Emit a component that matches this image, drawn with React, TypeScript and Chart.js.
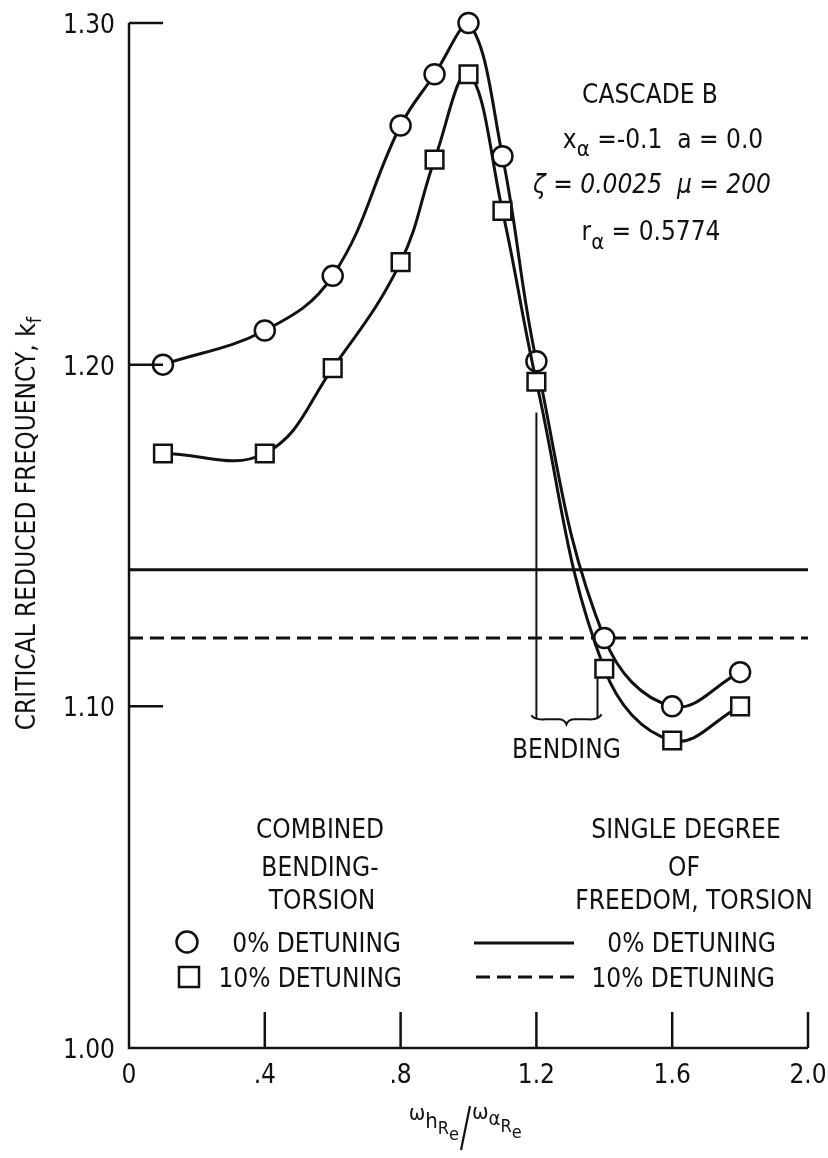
import React, { useEffect, useRef } from "react";
import { Chart, registerables } from "chart.js";

Chart.register(...registerables);

// ---- data ----
const xRatio = [0.1, 0.4, 0.6, 0.8, 0.9, 1.0, 1.1, 1.2, 1.4, 1.6, 1.8];
const kfDetune0 = [1.2, 1.21, 1.226, 1.27, 1.285, 1.3, 1.261, 1.201, 1.12, 1.1, 1.11];
const kfDetune10 = [1.174, 1.174, 1.199, 1.23, 1.26, 1.285, 1.245, 1.195, 1.111, 1.09, 1.1];
const sdofX = [0, 2.0];
const sdofDetune0 = 1.14;
const sdofDetune10 = 1.12;
const bendingRange = [1.2, 1.38];
const bendingTop = [1.186, 1.1085];
const bendingBase = 1.0965;
const xTicks = [0, 0.4, 0.8, 1.2, 1.6, 2.0];
const xTickLabels = ["0", ".4", ".8", "1.2", "1.6", "2.0"];
const yTicks = [1.0, 1.1, 1.2, 1.3];
const yTickLabels = ["1.00", "1.10", "1.20", "1.30"];

const FF = "'DejaVu Sans Condensed', 'DejaVu Sans', sans-serif";
const INK = "#111";

type Part = { t: string; size: number; dy: number; italic?: boolean };

function setFont(ctx: CanvasRenderingContext2D, size: number, italic = false) {
  ctx.font = `${italic ? "italic " : ""}${size}px ${FF}`;
  try {
    (ctx as any).fontStretch = "condensed";
  } catch (e) {}
}

function rich(ctx: CanvasRenderingContext2D, parts: Part[], x: number, y: number, align: "left" | "center" | "right") {
  let w = 0;
  parts.forEach((p) => {
    setFont(ctx, p.size, p.italic);
    w += ctx.measureText(p.t).width;
  });
  let cx = align === "center" ? x - w / 2 : align === "right" ? x - w : x;
  ctx.textAlign = "left";
  ctx.textBaseline = "alphabetic";
  parts.forEach((p) => {
    setFont(ctx, p.size, p.italic);
    ctx.fillText(p.t, cx, y + p.dy);
    cx += ctx.measureText(p.t).width;
  });
}

function txt(ctx: CanvasRenderingContext2D, s: string, x: number, y: number, align: "left" | "center" | "right", size = 26, italic = false) {
  rich(ctx, [{ t: s, size, dy: 0, italic }], x, y, align);
}

const decorPlugin = {
  id: "decor",
  afterDatasetsDraw(chart: any) {
    const ctx: CanvasRenderingContext2D = chart.ctx;
    const xs = chart.scales.x;
    const ys = chart.scales.y;
    const X = (v: number) => xs.getPixelForValue(v);
    const Y = (v: number) => ys.getPixelForValue(v);
    ctx.save();
    ctx.strokeStyle = INK;
    ctx.fillStyle = INK;
    ctx.lineCap = "butt";

    // axes
    ctx.lineWidth = 2.5;
    ctx.beginPath();
    ctx.moveTo(X(0), Y(yTicks[yTicks.length - 1]));
    ctx.lineTo(X(0), Y(yTicks[0]));
    ctx.lineTo(X(xTicks[xTicks.length - 1]), Y(yTicks[0]));
    ctx.stroke();

    // y ticks (inward)
    yTicks.forEach((v, i) => {
      if (i > 0) {
        ctx.beginPath();
        ctx.moveTo(X(0), Y(v));
        ctx.lineTo(X(0) + 34, Y(v));
        ctx.stroke();
      }
      txt(ctx, yTickLabels[i], X(0) - 14, Y(v) + 10, "right");
    });
    // x ticks (inward)
    xTicks.forEach((v, i) => {
      if (i > 0) {
        ctx.beginPath();
        ctx.moveTo(X(v), Y(yTicks[0]));
        ctx.lineTo(X(v), Y(yTicks[0]) - 36);
        ctx.stroke();
      }
      txt(ctx, xTickLabels[i], X(v), Y(yTicks[0]) + 35, "center");
    });

    // y title (rotated)
    ctx.save();
    ctx.translate(35, 317);
    ctx.rotate(-Math.PI / 2);
    rich(ctx, [
      { t: "CRITICAL REDUCED FREQUENCY, k", size: 26, dy: 0 },
      { t: "f", size: 20, dy: 6 },
    ], 0, 0, "right");
    ctx.restore();

    // x title
    const sx = 462;
    rich(ctx, [
      { t: "ω", size: 22, dy: 0 },
      { t: "h", size: 22, dy: 8 },
      { t: "R", size: 18, dy: 14 },
      { t: "e", size: 18, dy: 20 },
    ], sx - 3, 1120, "right");
    ctx.lineWidth = 2.2;
    ctx.beginPath();
    ctx.moveTo(sx - 1, 1150);
    ctx.lineTo(sx + 8, 1106);
    ctx.stroke();
    rich(ctx, [
      { t: "ω", size: 22, dy: 0 },
      { t: "α", size: 20, dy: 6 },
      { t: "R", size: 18, dy: 13 },
      { t: "e", size: 18, dy: 19 },
    ], sx + 10, 1119, "left");

    // annotation block
    txt(ctx, "CASCADE B", 650, 103, "center");
    rich(ctx, [
      { t: "x", size: 26, dy: 0 },
      { t: "α", size: 22, dy: 8 },
      { t: " =-0.1  a = 0.0", size: 26, dy: 0 },
    ], 663, 148, "center");
    txt(ctx, "ζ = 0.0025  μ = 200", 652, 193, "center", 26, true);
    rich(ctx, [
      { t: "r", size: 26, dy: 0 },
      { t: "α", size: 22, dy: 9 },
      { t: " = 0.5774", size: 26, dy: 0 },
    ], 651, 240, "center");

    // bending bracket
    ctx.lineWidth = 2;
    ctx.beginPath();
    ctx.moveTo(X(bendingRange[0]), Y(bendingTop[0]));
    ctx.lineTo(X(bendingRange[0]), Y(bendingBase));
    ctx.moveTo(X(bendingRange[1]), Y(bendingTop[1]));
    ctx.lineTo(X(bendingRange[1]), Y(bendingBase));
    ctx.stroke();
    const bl = X(bendingRange[0]) - 5;
    const br = X(bendingRange[1]) + 4;
    const bm = (bl + br) / 2;
    const by = Y(bendingBase);
    ctx.beginPath();
    ctx.moveTo(bl, by - 3);
    ctx.quadraticCurveTo(bl + 3, by + 2, bl + 14, by + 1);
    ctx.lineTo(bm - 8, by + 1);
    ctx.quadraticCurveTo(bm - 2, by + 1, bm, by + 6);
    ctx.quadraticCurveTo(bm + 2, by + 1, bm + 8, by + 1);
    ctx.lineTo(br - 14, by + 1);
    ctx.quadraticCurveTo(br - 3, by + 2, br, by - 4);
    ctx.stroke();
    txt(ctx, "BENDING", bm, 758, "center");

    // legend headers
    txt(ctx, "COMBINED", 320, 838, "center");
    txt(ctx, "BENDING-", 320, 876, "center");
    txt(ctx, "TORSION", 322, 909, "center");
    txt(ctx, "SINGLE DEGREE", 686, 838, "center");
    txt(ctx, "OF", 684, 876, "center");
    txt(ctx, "FREEDOM, TORSION", 694, 909, "center");

    // legend rows
    ctx.lineWidth = 2.5;
    ctx.fillStyle = "#fff";
    ctx.beginPath();
    ctx.arc(187, 942, 10.5, 0, Math.PI * 2);
    ctx.fill();
    ctx.stroke();
    ctx.beginPath();
    ctx.rect(179, 967, 20, 20);
    ctx.fill();
    ctx.stroke();
    ctx.fillStyle = INK;
    txt(ctx, "0% DETUNING", 401, 952, "right");
    txt(ctx, "10% DETUNING", 402, 987, "right");
    ctx.lineWidth = 3;
    ctx.beginPath();
    ctx.moveTo(474, 943);
    ctx.lineTo(574, 943);
    ctx.stroke();
    ctx.setLineDash([14, 7]);
    ctx.beginPath();
    ctx.moveTo(476, 977);
    ctx.lineTo(574, 977);
    ctx.stroke();
    ctx.setLineDash([]);
    txt(ctx, "0% DETUNING", 776, 952, "right");
    txt(ctx, "10% DETUNING", 775, 987, "right");

    ctx.restore();
  },
};

export default function App() {
  const ref = useRef<HTMLCanvasElement | null>(null);
  useEffect(() => {
    if (!ref.current) return;
    const pts = (ys: number[]) => xRatio.map((x, i) => ({ x, y: ys[i] }));
    const chart = new Chart(ref.current, {
      type: "scatter",
      data: {
        datasets: [
          {
            label: "10% detuning (combined)",
            data: pts(kfDetune10),
            showLine: true,
            borderColor: INK,
            borderWidth: 3,
            tension: 0.4,
            pointStyle: "rect",
            pointRadius: 12.5,
            pointBorderWidth: 2.5,
            pointBackgroundColor: "#fff",
            pointBorderColor: INK,
            clip: false,
          } as any,
          {
            label: "0% detuning (combined)",
            data: pts(kfDetune0),
            showLine: true,
            borderColor: INK,
            borderWidth: 3,
            tension: 0.4,
            pointStyle: "circle",
            pointRadius: 10,
            pointBorderWidth: 2.5,
            pointBackgroundColor: "#fff",
            pointBorderColor: INK,
            clip: false,
          } as any,
          {
            label: "0% detuning (SDOF)",
            data: sdofX.map((x) => ({ x, y: sdofDetune0 })),
            showLine: true,
            borderColor: INK,
            borderWidth: 3,
            pointRadius: 0,
            clip: false,
          } as any,
          {
            label: "10% detuning (SDOF)",
            data: sdofX.map((x) => ({ x, y: sdofDetune10 })),
            showLine: true,
            borderColor: INK,
            borderWidth: 3,
            borderDash: [14, 7],
            pointRadius: 0,
            clip: false,
          } as any,
        ],
      },
      options: {
        responsive: false,
        animation: false,
        devicePixelRatio: 1,
        layout: { padding: { left: 129, right: 20, top: 23, bottom: 110 } },
        plugins: { legend: { display: false }, tooltip: { enabled: false } },
        scales: {
          x: { type: "linear", min: 0, max: 2.0, display: false },
          y: { type: "linear", min: 1.0, max: 1.3, display: false },
        },
      },
      plugins: [decorPlugin],
    });
    return () => chart.destroy();
  }, []);
  return (
    <canvas
      ref={ref}
      width={828}
      height={1158}
      style={{ position: "absolute", left: 0, top: 0, width: 828, height: 1158 }}
    />
  );
}
